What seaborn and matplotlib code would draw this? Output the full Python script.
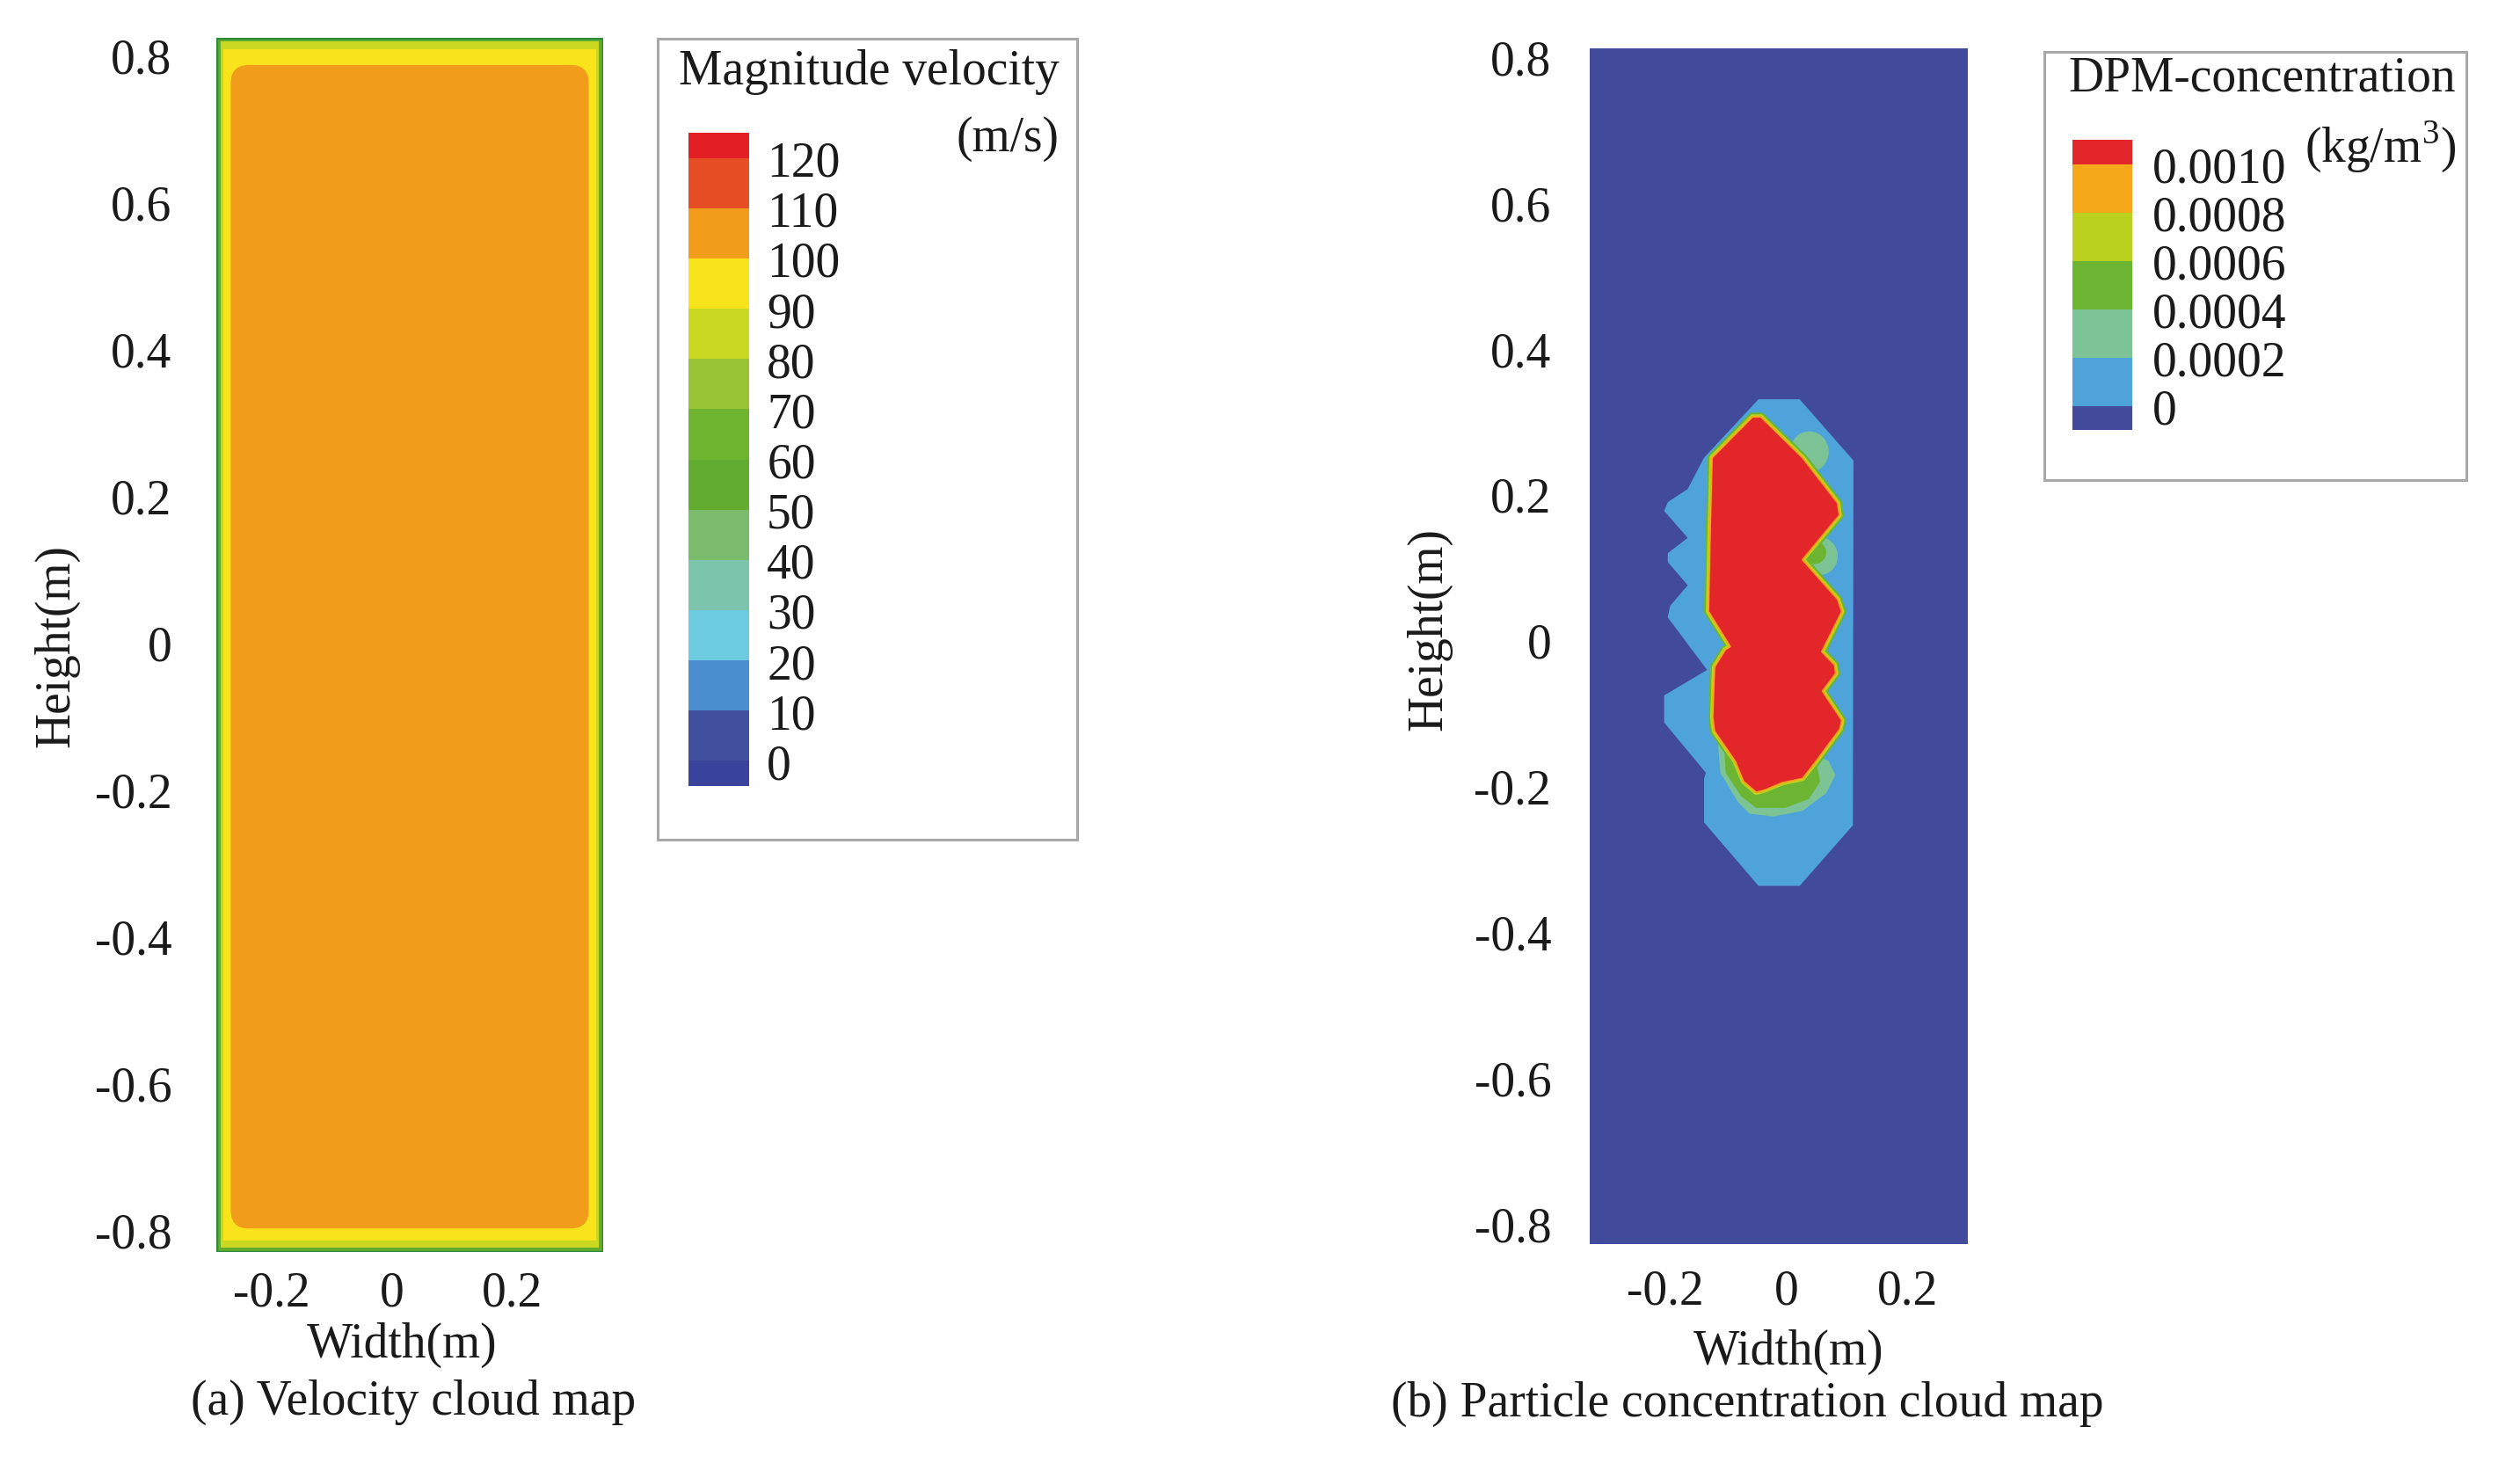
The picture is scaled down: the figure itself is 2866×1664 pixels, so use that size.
import numpy as np
import matplotlib
matplotlib.use("Agg")
import matplotlib.pyplot as plt
from matplotlib.colors import ListedColormap, BoundaryNorm
from matplotlib.patches import Rectangle, Polygon, FancyBboxPatch, Ellipse
import seaborn as sns

# ---- velocity cloud map data ----
vel_levels = [0, 10, 20, 30, 40, 50, 60, 70, 80, 90, 100, 110, 120]
vel_band_mid = [-5, 5, 15, 25, 35, 45, 55, 65, 75, 85, 95, 105, 115, 125]
vel_colors = ['#3a449c', '#414f9f', '#4b8fd0', '#6ccbe0', '#7cc5ac', '#7abb6c', '#62ad30',
              '#6fb42e', '#98c332', '#cad821', '#f9e41b', '#f29c1b', '#e84e26', '#e31e25']
vel_x_range = (-0.292, 0.351)
vel_y_range = (-0.830, 0.823)
# layers from the wall inwards: velocity band and distance from side / top / bottom wall (m)
vel_layer_values = [55, 85, 95, 105]
vel_inset_side = [0.0, 0.007, 0.012, 0.024]
vel_inset_top = [0.0, 0.005, 0.016, 0.037]
vel_inset_bottom = [0.0, 0.006, 0.016, 0.032]

# ---- particle concentration cloud map data ----
conc_levels = [0, 0.0002, 0.0004, 0.0006, 0.0008, 0.0010]
conc_labels = ['0', '0.0002', '0.0004', '0.0006', '0.0008', '0.0010']
conc_band_mid = [-0.0001, 0.0001, 0.0003, 0.0005, 0.0007, 0.0009, 0.0011]
conc_colors = ['#414a9b', '#4fa3db', '#7cc396', '#6bb533', '#bad21f', '#f5a91a', '#e3262a']
conc_x_range = (-0.325, 0.300)
conc_y_range = (-0.828, 0.811)

conc_outer_x = [-0.046, 0.022, 0.111, 0.110, 0.022, -0.046, -0.136, -0.136, -0.133, -0.202, -0.202,
                -0.131, -0.196, -0.192, -0.163, -0.196, -0.196, -0.163, -0.202, -0.196, -0.163, -0.136]
conc_outer_y = [0.330, 0.330, 0.246, -0.254, -0.337, -0.337, -0.250, -0.190, -0.182, -0.113, -0.076,
                -0.041, 0.031, 0.047, 0.075, 0.107, 0.119, 0.140, 0.177, 0.189, 0.207, 0.250]

conc_core_x = [-0.056, -0.042, 0.027, 0.085, 0.088, 0.027, 0.085, 0.092, 0.059, 0.080, 0.082, 0.060,
               0.092, 0.089, 0.046, 0.027, -0.007, -0.036, -0.050, -0.071, -0.085, -0.119, -0.122,
               -0.119, -0.101, -0.093, -0.129, -0.126, -0.123]
conc_core_y = [0.306, 0.306, 0.250, 0.188, 0.171, 0.110, 0.056, 0.039, -0.016, -0.034, -0.046, -0.070,
               -0.110, -0.122, -0.170, -0.190, -0.196, -0.206, -0.209, -0.194, -0.166, -0.125, -0.106,
               -0.037, -0.013, -0.009, 0.039, 0.156, 0.250]

conc_tail_teal_x = [-0.114, -0.109, -0.080, -0.061, -0.021, 0.027, 0.066, 0.081, 0.070, 0.051, -0.046]
conc_tail_teal_y = [-0.134, -0.182, -0.222, -0.238, -0.242, -0.234, -0.210, -0.185, -0.166, -0.158, -0.146]
conc_tail_green_x = [-0.104, -0.100, -0.075, -0.050, -0.002, 0.037, 0.056, 0.051, -0.046]
conc_tail_green_y = [-0.137, -0.182, -0.214, -0.230, -0.230, -0.218, -0.194, -0.173, -0.158]

# side pockets: centre x, centre y, half width, half height, band value
conc_pocket_x = [0.038, 0.055, 0.046]
conc_pocket_y = [0.258, 0.115, 0.120]
conc_pocket_rx = [0.032, 0.030, 0.020]
conc_pocket_ry = [0.028, 0.026, 0.016]
conc_pocket_val = [0.0003, 0.0003, 0.0005]

ticks_y = [-0.8, -0.6, -0.4, -0.2, 0, 0.2, 0.4, 0.6, 0.8]
ticks_x = [-0.2, 0, 0.2]

sns.set_theme(style="white")
plt.rcParams['font.family'] = ['Liberation Serif', 'DejaVu Serif']
plt.rcParams['mathtext.fontset'] = 'custom'
plt.rcParams['mathtext.rm'] = 'Liberation Serif'
plt.rcParams['axes.unicode_minus'] = False

W, H = 2866, 1665
fig = plt.figure(figsize=(W / 100, H / 100), dpi=100)
FS = 40


def px_axes(x0, y0, x1, y1):
    return fig.add_axes([x0 / W, 1 - y1 / H, (x1 - x0) / W, (y1 - y0) / H])


def px_text(x, y, s, **kw):
    fig.text(x / W, 1 - y / H, s, fontsize=FS, color='#1a1a1a', **kw)


def px_box(x0, y0, x1, y1):
    fig.add_artist(Rectangle((x0 / W, 1 - y1 / H), (x1 - x0) / W, (y1 - y0) / H,
                             transform=fig.transFigure, fill=False, edgecolor='#a8a8a8', lw=2.2))


def style_axes(ax, xr, yr, ypad, xpad):
    ax.set_xlim(*xr)
    ax.set_ylim(*yr)
    ax.set_xticks(ticks_x)
    ax.set_xticklabels([f"{v:g}" for v in ticks_x])
    ax.set_yticks(ticks_y)
    ax.set_yticklabels([f"{v:g}" for v in ticks_y])
    ax.tick_params(axis='y', length=0, pad=ypad, labelsize=FS, labelcolor='#1a1a1a')
    ax.tick_params(axis='x', length=0, pad=xpad, labelsize=FS, labelcolor='#1a1a1a')
    for sp in ax.spines.values():
        sp.set_visible(False)
    ax.set_xlabel('Width(m)', fontsize=FS, color='#1a1a1a')
    ax.set_ylabel('Height(m)', fontsize=FS, color='#1a1a1a')
    ax.xaxis.label.set_va('center')
    ax.yaxis.label.set_va('center')


def draw_legend(cax, band_mid, cmap, norm, labels, pad):
    data = np.array(band_mid[::-1]).reshape(-1, 1)
    sns.heatmap(data, ax=cax, cmap=cmap, norm=norm, cbar=False,
                xticklabels=False, yticklabels=False)
    n = len(band_mid)
    cax.set_ylim(n - 0.5, 0.5)
    cax.set_yticks(np.arange(1, n))
    cax.set_yticklabels(labels[::-1])
    cax.yaxis.tick_right()
    cax.tick_params(axis='y', length=0, pad=pad, labelsize=FS, labelcolor='#1a1a1a',
                    labelright=True, labelleft=False)


# ---- (a) velocity ----
vel_cmap = ListedColormap(vel_colors)
vel_norm = BoundaryNorm([-10] + vel_levels + [130], vel_cmap.N)

ax1 = px_axes(246, 44, 686, 1425)
x0, x1 = vel_x_range
y0, y1 = vel_y_range
for i, (val, s, t, b) in enumerate(zip(vel_layer_values, vel_inset_side, vel_inset_top, vel_inset_bottom)):
    col = vel_cmap(vel_norm(val))
    if i == len(vel_layer_values) - 1:
        r = 0.03
        patch = FancyBboxPatch((x0 + s, y0 + b), (x1 - x0) - 2 * s, (y1 - y0) - t - b,
                               boxstyle=f"round,pad=0,rounding_size={r}",
                               mutation_aspect=685 / 835, facecolor=col, edgecolor='none')
    else:
        patch = Rectangle((x0 + s, y0 + b), (x1 - x0) - 2 * s, (y1 - y0) - t - b,
                          facecolor=col, edgecolor='#2e8b3a' if i == 0 else 'none', lw=2.5)
    ax1.add_patch(patch)
style_axes(ax1, vel_x_range, vel_y_range, ypad=36.5, xpad=15)
ax1.xaxis.set_label_coords(0.48, -0.076)
ax1.yaxis.set_label_coords(-0.414, 0.5)

cax1 = px_axes(783, 152, 852, 895)
draw_legend(cax1, vel_band_mid, vel_cmap, vel_norm, [str(v) for v in vel_levels], pad=14.5)
px_box(748, 45, 1225, 956)
px_text(772, 82, 'Magnitude velocity', ha='left', va='center')
px_text(1205, 158, '(m/s)', ha='right', va='center')
px_text(470, 1595, '(a) Velocity cloud map', ha='center', va='center')

# ---- (b) concentration ----
conc_cmap = ListedColormap(conc_colors)
conc_norm = BoundaryNorm([-0.0002] + conc_levels + [0.0012], conc_cmap.N)


def cc(v):
    return conc_cmap(conc_norm(v))


ax2 = px_axes(1808, 56, 2238, 1416)
cx0, cx1 = conc_x_range
cy0, cy1 = conc_y_range
ax2.add_patch(Rectangle((cx0, cy0), cx1 - cx0, cy1 - cy0, facecolor=cc(conc_band_mid[0]), edgecolor='none'))
ax2.add_patch(Polygon(np.column_stack([conc_outer_x, conc_outer_y]), closed=True,
                      facecolor=cc(0.0001), edgecolor='none'))
for px_, py_, rx, ry, v in zip(conc_pocket_x, conc_pocket_y, conc_pocket_rx, conc_pocket_ry, conc_pocket_val):
    ax2.add_patch(Ellipse((px_, py_), 2 * rx, 2 * ry, facecolor=cc(v), edgecolor='none'))
ax2.add_patch(Polygon(np.column_stack([conc_tail_teal_x, conc_tail_teal_y]), closed=True,
                      facecolor=cc(0.0003), edgecolor='none'))
ax2.add_patch(Polygon(np.column_stack([conc_tail_green_x, conc_tail_green_y]), closed=True,
                      facecolor=cc(0.0005), edgecolor='none'))
core = np.column_stack([conc_core_x, conc_core_y])
# thin rims of the intermediate bands around the core
ax2.add_patch(Polygon(core, closed=True, facecolor=cc(0.0005), edgecolor=cc(0.0005), lw=7, joinstyle='round'))
ax2.add_patch(Polygon(core, closed=True, facecolor=cc(0.0007), edgecolor=cc(0.0007), lw=4, joinstyle='round'))
ax2.add_patch(Polygon(core, closed=True, facecolor=cc(0.0011), edgecolor=cc(0.0009), lw=1.5, joinstyle='round'))
style_axes(ax2, conc_x_range, conc_y_range, ypad=31.5, xpad=20)
ax2.xaxis.set_label_coords(0.526, -0.0897)
ax2.yaxis.set_label_coords(-0.426, 0.515)

cax2 = px_axes(2357, 160, 2425, 490)
draw_legend(cax2, conc_band_mid, conc_cmap, conc_norm, conc_labels, pad=16.5)
px_box(2325, 60, 2805, 547)
px_text(2352, 90, 'DPM-concentration', ha='left', va='center')
px_text(2793, 167, '(kg/m$^3$)', ha='right', va='center')
px_text(1987, 1597, '(b) Particle concentration cloud map', ha='center', va='center')

fig.savefig('out.png', dpi=100)
